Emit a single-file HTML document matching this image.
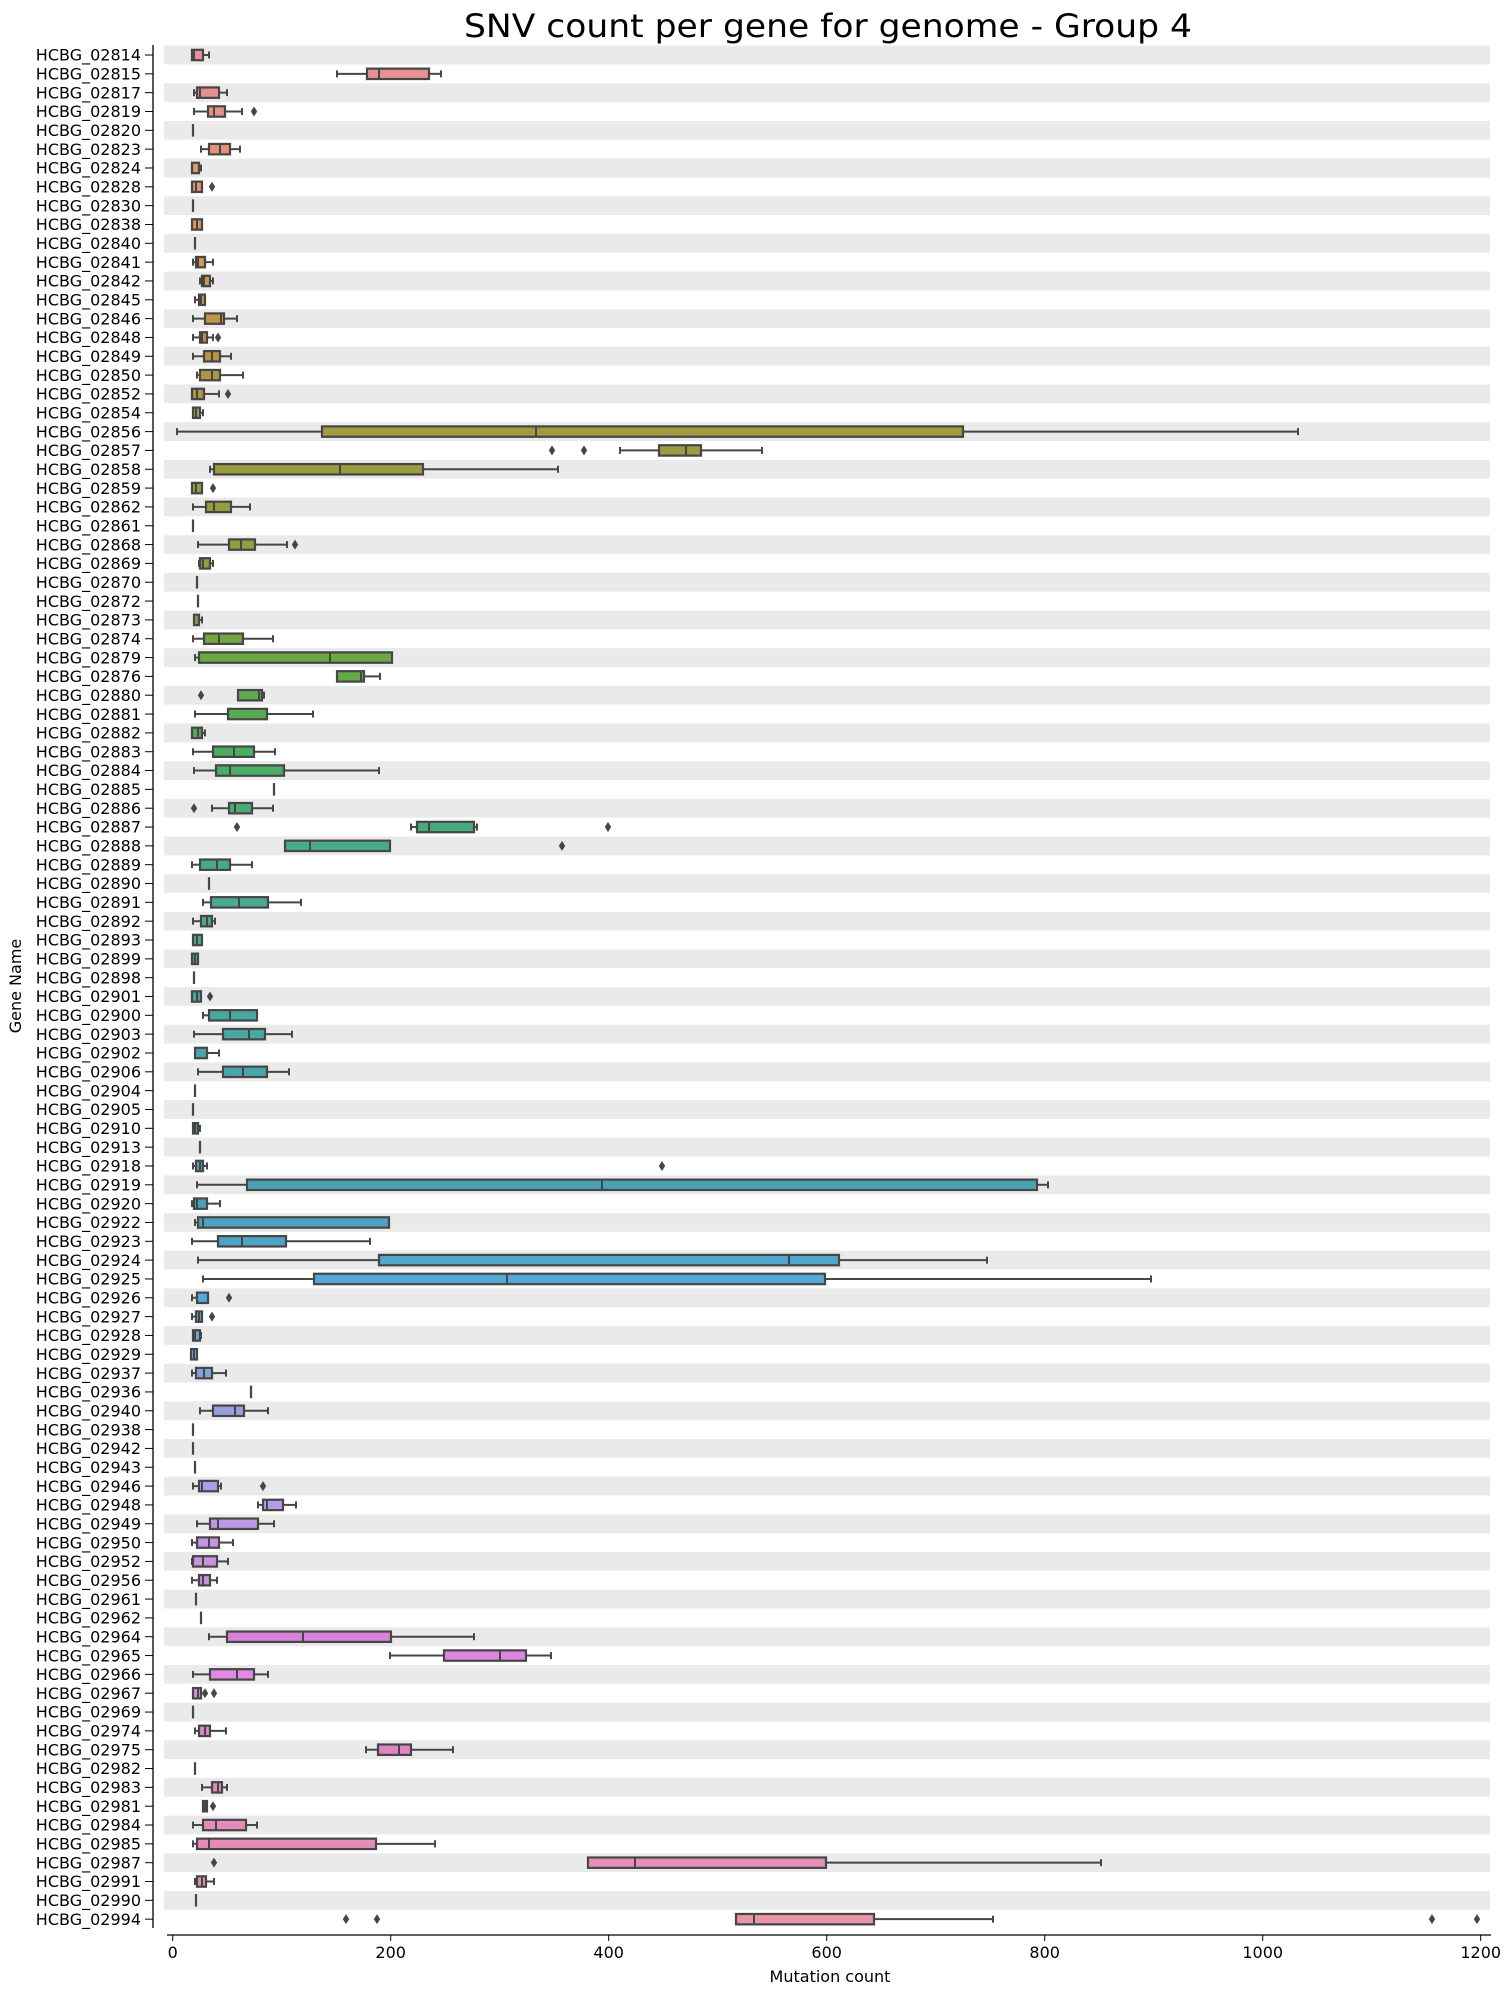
<!DOCTYPE html>
<html><head><meta charset="utf-8"><style>
html,body{margin:0;padding:0;background:#fff;}
svg{display:block;font-family:"DejaVu Sans","Liberation Sans",sans-serif;}
</style></head><body>
<svg id="c" width="1512" height="1996" xmlns="http://www.w3.org/2000/svg"></svg>
<script>
const names="02814 02815 02817 02819 02820 02823 02824 02828 02830 02838 02840 02841 02842 02845 02846 02848 02849 02850 02852 02854 02856 02857 02858 02859 02862 02861 02868 02869 02870 02872 02873 02874 02879 02876 02880 02881 02882 02883 02884 02885 02886 02887 02888 02889 02890 02891 02892 02893 02899 02898 02901 02900 02903 02902 02906 02904 02905 02910 02913 02918 02919 02920 02922 02923 02924 02925 02926 02927 02928 02929 02937 02936 02940 02938 02942 02943 02946 02948 02949 02950 02952 02956 02961 02962 02964 02965 02966 02967 02969 02974 02975 02982 02983 02981 02984 02985 02987 02991 02990 02994".split(" ");
const D=[
[192,192,194,203,209],[337,367,379,429,441],[194,197,200,219,227],[194,208,214,225,242,[254]],[193,193,193,193,193],
[201,209,220,230,240],[192,192,192,199,201],[192,192,196,202,202,[212]],[193,193,193,193,193],[192,192,197,202,202],
[195,195,195,195,195],[193,196,198,205,213],[200,202,204,210,213],[195,199,201,205,205],[193,205,221,224,237],
[193,200,202,207,213,[218]],[193,204,212,220,231],[197,200,212,220,243],[192,192,197,204,219,[228]],[193,193,196,200,203],
[177,322,536,963,1298],[620,659,686,701,762,[552,584]],[210,214,340,423,558],[192,192,196,202,202,[213]],[193,206,214,231,250],
[193,193,193,193,193],[198,229,241,255,287,[295]],[199,200,203,210,213],[197,197,197,197,197],[198,198,198,198,198],
[194,194,194,199,202],[193,204,219,243,273],[195,199,330,392,392],[337,337,361,364,380],[238,238,259,262,264,[201]],
[195,228,228,267,313],[192,192,198,202,205],[193,213,234,254,275],[194,216,230,284,379],[274,274,274,274,274],
[212,229,235,252,273,[194]],[411,417,429,474,477,[237,608]],[285,285,310,390,390,[562]],[192,200,217,230,252],[209,209,209,209,209],
[203,211,239,268,301],[193,201,207,212,215],[193,193,197,202,202],[192,192,195,198,198],[194,194,194,194,194],
[192,192,197,201,201,[210]],[203,209,230,257,257],[194,223,249,265,292],[195,195,195,207,219],[198,223,243,267,289],
[195,195,195,195,195],[193,193,193,193,193],[193,193,195,198,200],[200,200,200,200,200],[193,196,200,203,207,[662]],
[197,247,602,1037,1048],[192,194,197,207,220],[195,198,203,389,389],[192,218,242,286,370],[198,379,789,839,987],
[203,314,507,825,1151],[192,197,197,208,208,[229]],[192,196,199,202,202,[212]],[193,193,195,200,201],[191,191,194,197,197],
[192,196,204,212,226],[251,251,251,251,251],[200,213,235,244,268],[193,193,193,193,193],[193,193,193,193,193],
[195,195,195,195,195],[193,199,202,218,221,[263]],[258,263,267,283,296],[197,210,218,258,274],[192,197,209,219,233],
[192,193,203,217,228],[192,199,203,210,217],[196,196,196,196,196],[201,201,201,201,201],[209,227,303,391,474],
[390,444,500,526,551],[193,210,237,254,268],[193,193,198,201,201,[205,214]],[193,193,193,193,193],[195,199,205,210,226],
[366,378,399,411,453],[195,195,195,195,195],[202,212,218,222,227],[203,203,205,207,207,[213]],[193,203,216,246,257],
[193,197,209,376,435],[588,588,635,826,1101,[214]],[195,197,202,206,214],[196,196,196,196,196],[736,736,754,874,993,[346,377,1432,1477]]
];
const anchors=[[0,"#e8919b"],[5,"#e3927c"],[11,"#d8964f"],[15,"#bb9545"],[20,"#a09a40"],[27,"#8ea03e"],[32,"#6aa843"],[37,"#4bad5e"],[42,"#47ab86"],[48,"#46ab9c"],[55,"#48a5aa"],[61,"#4aa0b8"],[66,"#55aadd"],[72,"#9aa0de"],[78,"#be9ae6"],[84,"#d583d8"],[86,"#e28ae2"],[90,"#df85c0"],[96,"#e58eb8"],[99,"#e895a8"]];
function hx(h){return [1,3,5].map(i=>parseInt(h.substr(i,2),16));}
function col(i){for(let k=0;k<anchors.length-1;k++){const[a,ca]=anchors[k],[b,cb]=anchors[k+1];if(i>=a&&i<=b){const t=(i-a)/(b-a);const A=hx(ca),B=hx(cb);return "rgb("+A.map((v,j)=>Math.round(v+(B[j]-v)*t)).join(",")+")";}}return anchors[anchors.length-1][1];}
let s="";
const E="#464646";
const y0=55,p=18.83;
for(let i=0;i<100;i++){const y=y0+i*p;if(i%2==0)s+=`<rect x="164" y="${(y-9.4).toFixed(2)}" width="1326" height="18.83" fill="#eaeaea"/>`;}
for(let i=0;i<100;i++){
 const y=y0+i*p;const [w1,q1,m,q3,w2,o]=D[i];
 s+=`<line x1="145" x2="153" y1="${y}" y2="${y}" stroke="#000" stroke-width="1"/>`;
 s+=`<text x="141" y="${y+5.7}" font-size="16" text-anchor="end">HCBG_${names[i]}</text>`;
 if(w1<q1)s+=`<line x1="${w1}" x2="${q1}" y1="${y}" y2="${y}" stroke="${E}" stroke-width="2"/><line x1="${w1}" x2="${w1}" y1="${y-3.5}" y2="${y+3.5}" stroke="${E}" stroke-width="2"/>`;
 if(w2>q3)s+=`<line x1="${q3}" x2="${w2}" y1="${y}" y2="${y}" stroke="${E}" stroke-width="2"/><line x1="${w2}" x2="${w2}" y1="${y-3.5}" y2="${y+3.5}" stroke="${E}" stroke-width="2"/>`;
 s+=`<rect x="${q1}" y="${y-5.2}" width="${Math.max(q3-q1,0.01)}" height="10.4" fill="${col(i)}" stroke="${E}" stroke-width="2.2"/>`;
 s+=`<line x1="${m}" x2="${m}" y1="${y-5.2}" y2="${y+5.2}" stroke="${E}" stroke-width="2"/>`;
 if(o)for(const x of o)s+=`<polygon points="${x},${y-5} ${x+3.2},${y} ${x},${y+5} ${x-3.2},${y}" fill="${E}"/>`;
}
s+=`<line x1="153" x2="153" y1="45" y2="1928" stroke="#000" stroke-width="1.3"/>`;
s+=`<line x1="167" x2="1491" y1="1935" y2="1935" stroke="#000" stroke-width="1.3"/>`;
for(let v=0;v<=1200;v+=200){const x=172.7+v*1.09;s+=`<line x1="${x}" x2="${x}" y1="1935" y2="1941" stroke="#000" stroke-width="1"/><text x="${x}" y="1958" font-size="16" text-anchor="middle">${v}</text>`;}
s+=`<text x="830" y="1982" font-size="16" text-anchor="middle">Mutation count</text>`;
s+=`<text transform="translate(21,986) rotate(-90)" font-size="16" text-anchor="middle">Gene Name</text>`;
s+=`<text x="828" y="37" font-size="32" text-anchor="middle" textLength="728" lengthAdjust="spacingAndGlyphs">SNV count per gene for genome - Group 4</text>`;
document.getElementById("c").innerHTML=s;
</script>
</body></html>
